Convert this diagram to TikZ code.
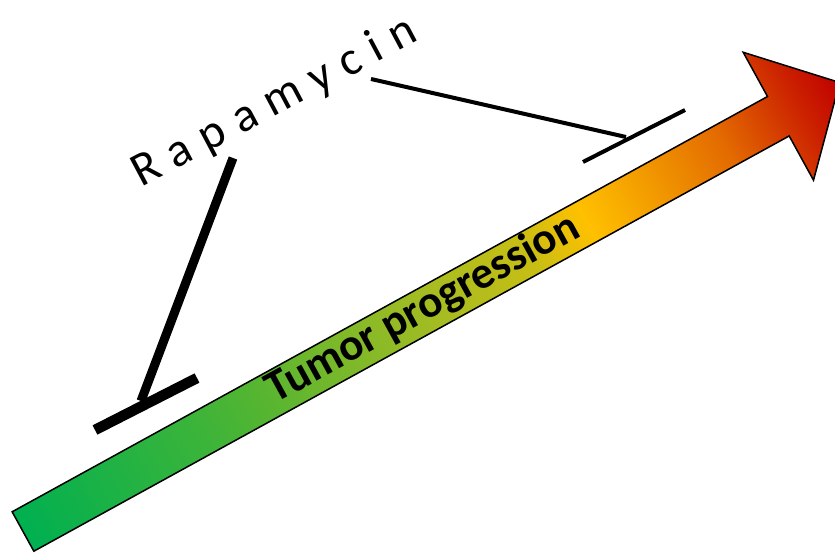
\documentclass[tikz,border=0pt]{standalone}
\usepackage{fontspec}
\setmainfont{Carlito}
\newfontfamily\rapfont[LetterSpace=27]{Carlito}
\definecolor{g0}{HTML}{00B050}
\definecolor{g1}{HTML}{3CB43A}
\definecolor{g2}{HTML}{55B531}
\definecolor{g3}{HTML}{A5BC22}
\definecolor{g4}{HTML}{C8BE14}
\definecolor{y0}{HTML}{FFC000}
\definecolor{o1}{HTML}{F5A300}
\definecolor{o2}{HTML}{E36A00}
\definecolor{r1}{HTML}{CC2200}
\definecolor{r0}{HTML}{C00000}
\pgfdeclarehorizontalshading{tumorgrad}{100bp}{color(0bp)=(g0); color(25bp)=(g0); color(36bp)=(g1); color(39.5bp)=(g2); color(50bp)=(g3); color(56bp)=(g4); color(59.5bp)=(y0); color(62.5bp)=(o1); color(68bp)=(o2); color(72.5bp)=(r1); color(75bp)=(r0); color(100bp)=(r0)}
\tikzset{
  inhthick/.style={line width=9pt, draw=black},
  barthick/.style={line width=10.5pt, draw=black},
  inhthin/.style={line width=4pt, draw=black},
  arrowbody/.style={shading=tumorgrad, draw=black, line width=1.5pt, line join=miter},
}
\begin{document}
\begin{tikzpicture}[x=1pt,y=1pt]
\useasboundingbox (0,0) rectangle (835,552);
\begin{scope}[transform canvas={shift={(23pt,20.5pt)},rotate=28.8}]
  \shade[arrowbody] (0,-22.5) -- (862,-22.5) -- (862,-73) -- (932,0) -- (862,73) -- (862,22.5) -- (0,22.5) -- cycle;
  \node[anchor=base, inner sep=0pt, font=\bfseries\fontsize{45}{52}\selectfont] (tp) at (458,-10) {Tumor progression};
\end{scope}
\node[anchor=base west, inner sep=0pt, rotate=28, font=\rapfont\fontsize{48}{56}\selectfont] (rap) at (141,364) {Rapamycin};
\coordinate (s1) at (233,394);
\coordinate (b1) at (141,151);
\coordinate (b1l) at (95,122);
\coordinate (b1r) at (197,174);
\coordinate (s2) at (371,473);
\coordinate (b2) at (626,415);
\coordinate (b2l) at (583,390);
\coordinate (b2r) at (685,442);
\draw[inhthick] (s1) -- (b1);
\draw[barthick] (b1l) -- (b1r);
\draw[inhthin] (s2) -- (b2);
\draw[inhthin] (b2l) -- (b2r);
\end{tikzpicture}
\end{document}
